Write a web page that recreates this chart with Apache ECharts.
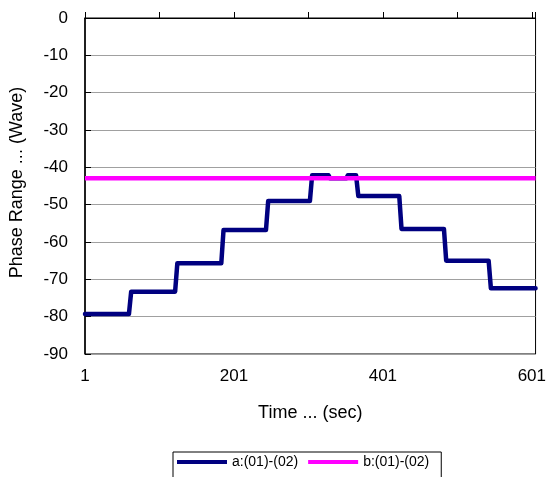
<!DOCTYPE html>
<html><head><meta charset="utf-8">
<script src="https://cdn.jsdelivr.net/npm/echarts@6/dist/echarts.min.js"></script>
<style>html,body{margin:0;padding:0;background:#fff}#c{width:549px;height:477px}</style>
</head><body><div id="c"></div>
<script>
// ---- data ----
const seriesAName = 'a:(01)-(02)';
const seriesBName = 'b:(01)-(02)';
const aTimes  = [1, 60, 63, 122, 125, 184, 187, 244, 247, 303, 306, 328, 330, 352, 354, 365, 368, 423, 426, 483, 486, 543, 546, 606];
const aValues = [-79.3, -79.3, -73.3, -73.3, -65.7, -65.7, -56.8, -56.8, -49.0, -49.0, -42.1, -42.1, -42.9, -42.9, -42.1, -42.1, -47.7, -47.7, -56.5, -56.5, -65.0, -65.0, -72.4, -72.4];
const bTimes  = [1, 606];
const bValues = [-42.9, -42.9];
const xMin = 1, xMax = 606, xLabelStep = 200, xTickStep = 100;
const yMin = -90, yMax = 0, yStep = 10;
const xName = 'Time ... (sec)';
const yName = 'Phase Range ... (Wave)';

const FONT = 'Liberation Sans, Arial, sans-serif';
const chart = echarts.init(document.getElementById('c'), null, {renderer: 'canvas'});
chart.setOption({
  animation: false,
  backgroundColor: '#fff',
  grid: {left: 84, right: 9, top: 18, bottom: 123, show: true, borderColor: '#000', borderWidth: 1, backgroundColor: 'transparent'},
  legend: {
    left: 173, top: 452, orient: 'horizontal',
    itemWidth: 50, itemHeight: 4, itemGap: 10, icon: 'rect',
    borderColor: '#000', borderWidth: 1, padding: [3, 12, 20, 4],
    textStyle: {fontSize: 14, fontFamily: FONT, color: '#000'},
    data: [seriesAName, seriesBName]
  },
  xAxis: [
    {
      type: 'value', position: 'bottom', min: xMin, max: xMax, interval: xLabelStep,
      name: xName, nameLocation: 'middle', nameGap: 50,
      nameTextStyle: {fontSize: 18, fontFamily: FONT, color: '#000'},
      axisLine: {show: true, lineStyle: {color: '#000', width: 1}},
      axisTick: {show: false},
      splitLine: {show: false},
      axisLabel: {fontSize: 17, fontFamily: FONT, color: '#000', margin: 14, showMaxLabel: false,
        formatter: v => ((v - xMin) % xLabelStep === 0 ? String(v) : '')}
    },
    {
      type: 'value', position: 'top', min: xMin, max: xMax, interval: xTickStep,
      axisLine: {show: true, lineStyle: {color: '#000', width: 1}},
      axisTick: {show: true, inside: false, length: 6, lineStyle: {color: '#000', width: 1}},
      axisLabel: {show: false},
      splitLine: {show: false}
    }
  ],
  yAxis: {
    type: 'value', min: yMin, max: yMax, interval: yStep,
    name: yName, nameLocation: 'middle', nameGap: 59,
    nameTextStyle: {fontSize: 18, fontFamily: FONT, color: '#000', padding: [0, 0, 0, 7]},
    axisLine: {show: true, lineStyle: {color: '#000', width: 1.5}},
    axisTick: {show: true, inside: true, length: 6, lineStyle: {color: '#000', width: 1}},
    splitLine: {show: true, lineStyle: {color: '#a0a0a0', width: 1}},
    axisLabel: {fontSize: 17, fontFamily: FONT, color: '#000', margin: 17}
  },
  series: [
    {
      name: seriesAName, type: 'line', xAxisIndex: 0, showSymbol: false, symbol: 'none',
      color: '#000080',
      lineStyle: {color: '#000080', width: 4.5, cap: 'round', join: 'round'},
      data: aTimes.map((t, i) => [t, aValues[i]]), z: 3
    },
    {
      name: seriesBName, type: 'line', xAxisIndex: 0, showSymbol: false, symbol: 'none',
      color: '#ff00ff',
      lineStyle: {color: '#ff00ff', width: 4.5, cap: 'butt'},
      data: bTimes.map((t, i) => [t, bValues[i]]), z: 4
    }
  ]
});
</script>
</body></html>
